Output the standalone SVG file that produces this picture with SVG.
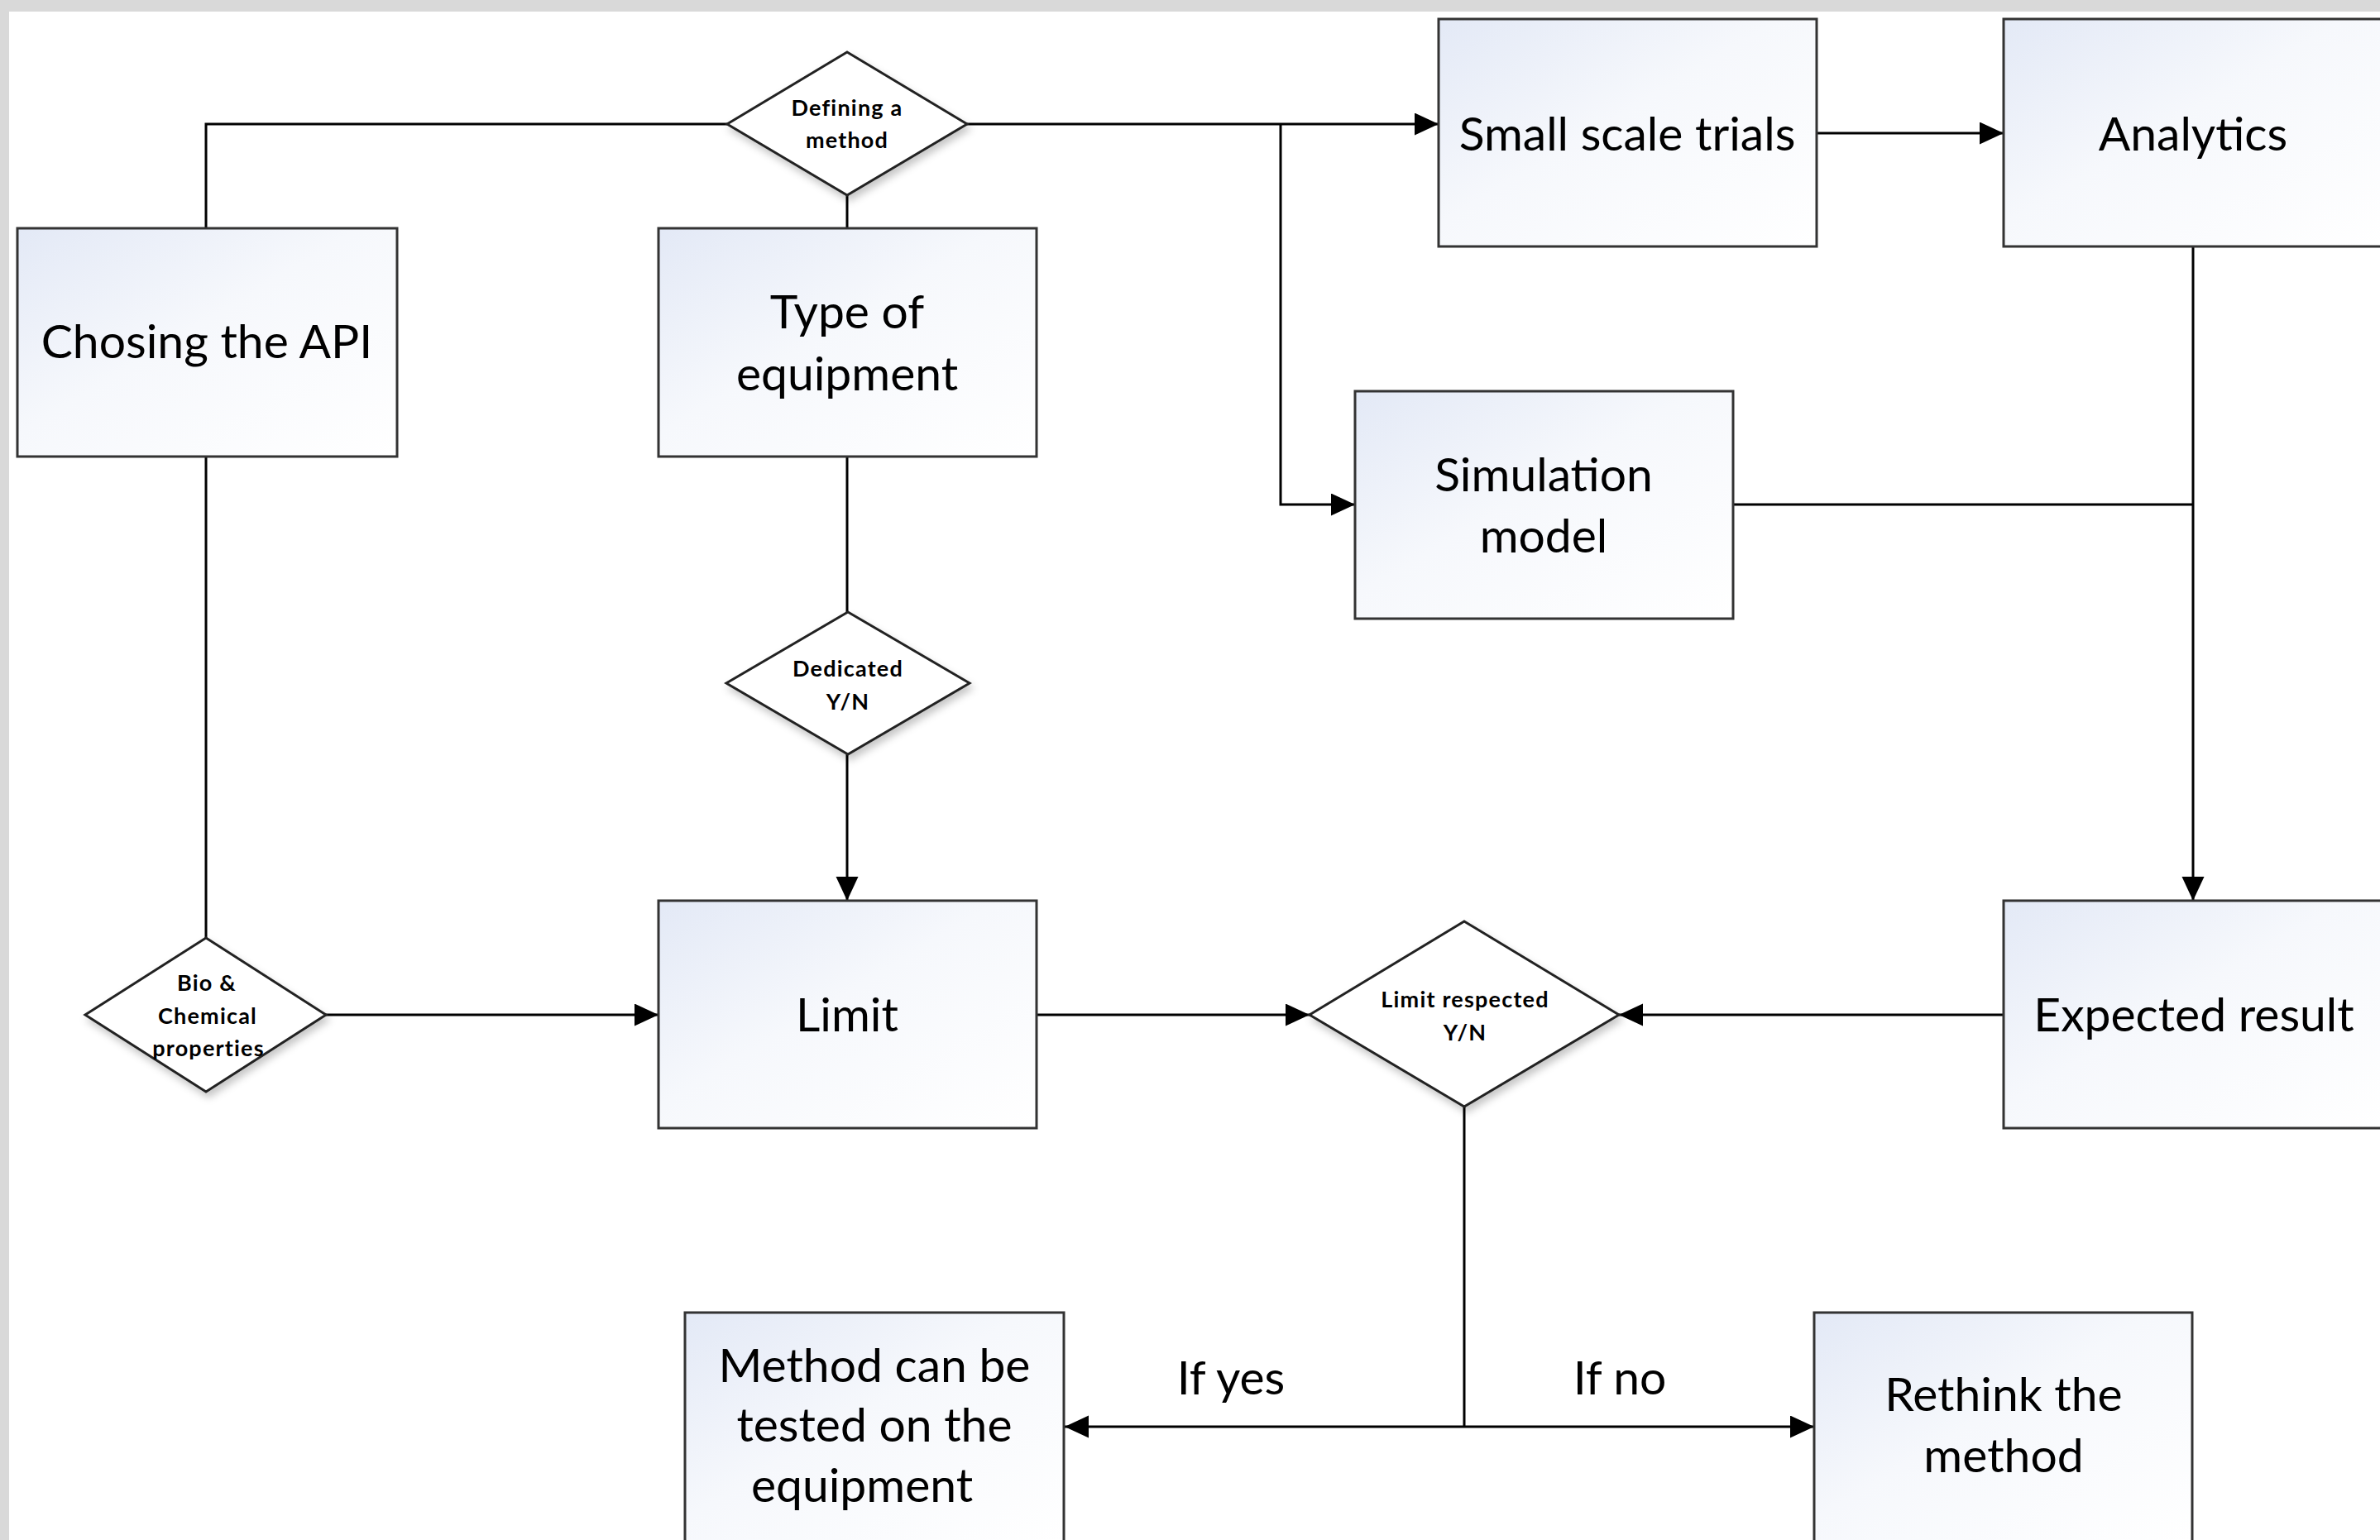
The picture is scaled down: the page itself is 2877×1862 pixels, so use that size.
<svg xmlns="http://www.w3.org/2000/svg" width="2877" height="1862" viewBox="0 0 2877 1862">
  <defs>
    <linearGradient id="boxFill" x1="0" y1="0" x2="1" y2="1">
      <stop offset="0" stop-color="#e3e9f6"/>
      <stop offset="0.45" stop-color="#f6f8fc"/>
      <stop offset="1" stop-color="#ffffff"/>
    </linearGradient>
    <filter id="shadow" x="-20%" y="-20%" width="140%" height="150%">
      <feDropShadow dx="3" dy="6" stdDeviation="5" flood-color="#000" flood-opacity="0.22"/>
    </filter>
    <marker id="arrow" markerUnits="userSpaceOnUse" markerWidth="30" markerHeight="28" refX="29" refY="13.5" orient="auto">
      <path d="M0,0 L29,13.5 L0,27 Z" fill="#000"/>
    </marker>
  </defs>
  <style>
    .box { fill: url(#boxFill); stroke: #333; stroke-width: 3; }
    .dia { fill: #fff; stroke: #222; stroke-width: 3; filter: url(#shadow); }
    .conn { fill: none; stroke: #000; stroke-width: 3; }
    .big { font-family: Lato, "Open Sans", sans-serif; font-size: 57px; fill: #000; text-anchor: middle; }
    .small { font-family: Lato, "Open Sans", sans-serif; font-size: 27px; font-weight: bold; fill: #000; text-anchor: middle; letter-spacing: 1.2px; }
  </style>

  <rect x="0" y="0" width="2877" height="1862" fill="#d9d9d9"/>
  <rect x="11" y="14" width="2866" height="1848" fill="#ffffff"/>

  <g id="connectors">
    <polyline class="conn" points="879,150 249,150 249,276"/>
    <line class="conn" x1="1024" y1="236" x2="1024" y2="276"/>
    <line class="conn" x1="1168" y1="150" x2="1739" y2="150" marker-end="url(#arrow)"/>
    <polyline class="conn" points="1548,150 1548,610 1638,610" marker-end="url(#arrow)"/>
    <line class="conn" x1="2196" y1="161" x2="2422" y2="161" marker-end="url(#arrow)"/>
    <line class="conn" x1="2651" y1="298" x2="2651" y2="1089" marker-end="url(#arrow)"/>
    <line class="conn" x1="2095" y1="610" x2="2651" y2="610"/>
    <line class="conn" x1="249" y1="552" x2="249" y2="1134"/>
    <line class="conn" x1="394" y1="1227" x2="796" y2="1227" marker-end="url(#arrow)"/>
    <line class="conn" x1="1024" y1="552" x2="1024" y2="740"/>
    <line class="conn" x1="1024" y1="912" x2="1024" y2="1089" marker-end="url(#arrow)"/>
    <line class="conn" x1="1253" y1="1227" x2="1583" y2="1227" marker-end="url(#arrow)"/>
    <line class="conn" x1="2422" y1="1227" x2="1957" y2="1227" marker-end="url(#arrow)"/>
    <line class="conn" x1="1770" y1="1338" x2="1770" y2="1725"/>
    <line class="conn" x1="1770" y1="1725" x2="1287" y2="1725" marker-end="url(#arrow)"/>
    <line class="conn" x1="1770" y1="1725" x2="2193" y2="1725" marker-end="url(#arrow)"/>
    <text class="big" x="1488" y="1686">If yes</text>
    <text class="big" x="1958" y="1686">If no</text>
  </g>

  <g id="defining-method">
    <polygon class="dia" points="1024,63 1169,150 1024,236 879,150"/>
    <text class="small" x="1024" y="140">Defining a</text>
    <text class="small" x="1024" y="179">method</text>
  </g>

  <g id="chosing-api">
    <rect class="box" x="21" y="276" width="459" height="276"/>
    <text class="big" x="250" y="433">Chosing the API</text>
  </g>

  <g id="type-equipment">
    <rect class="box" x="796" y="276" width="457" height="276"/>
    <text class="big" x="1024" y="397">Type of</text>
    <text class="big" x="1024" y="472">equipment</text>
  </g>

  <g id="small-scale-trials">
    <rect class="box" x="1739" y="23" width="457" height="275"/>
    <text class="big" x="1967" y="182">Small scale trials</text>
  </g>

  <g id="analytics">
    <rect class="box" x="2422" y="23" width="457" height="275"/>
    <text class="big" x="2651" y="182">Analytics</text>
  </g>

  <g id="simulation-model">
    <rect class="box" x="1638" y="473" width="457" height="275"/>
    <text class="big" x="1866" y="594">Simulation</text>
    <text class="big" x="1866" y="668">model</text>
  </g>

  <g id="dedicated">
    <polygon class="dia" points="1025,740 1172,826 1025,912 878,826"/>
    <text class="small" x="1025" y="818">Dedicated</text>
    <text class="small" x="1025" y="858">Y/N</text>
  </g>

  <g id="bio-chemical">
    <polygon class="dia" points="249,1134 394,1227 249,1320 103,1227"/>
    <text class="small" x="250" y="1198">Bio &amp;</text>
    <text class="small" x="251" y="1238">Chemical</text>
    <text class="small" x="252" y="1277">properties</text>
  </g>

  <g id="limit">
    <rect class="box" x="796" y="1089" width="457" height="275"/>
    <text class="big" x="1024" y="1247">Limit</text>
  </g>

  <g id="limit-respected">
    <polygon class="dia" points="1770,1114 1957,1227 1770,1338 1583,1227"/>
    <text class="small" x="1771" y="1218">Limit respected</text>
    <text class="small" x="1771" y="1258">Y/N</text>
  </g>

  <g id="expected-result">
    <rect class="box" x="2422" y="1089" width="457" height="275"/>
    <text class="big" x="2652" y="1247">Expected result</text>
  </g>

  <g id="method-tested">
    <rect class="box" x="828" y="1587" width="458" height="277"/>
    <text class="big" x="1057" y="1671">Method can be</text>
    <text class="big" x="1057" y="1743">tested on the</text>
    <text class="big" x="1042" y="1816">equipment</text>
  </g>

  <g id="rethink-method">
    <rect class="box" x="2193" y="1587" width="457" height="277"/>
    <text class="big" x="2422" y="1706">Rethink the</text>
    <text class="big" x="2422" y="1780">method</text>
  </g>
</svg>
